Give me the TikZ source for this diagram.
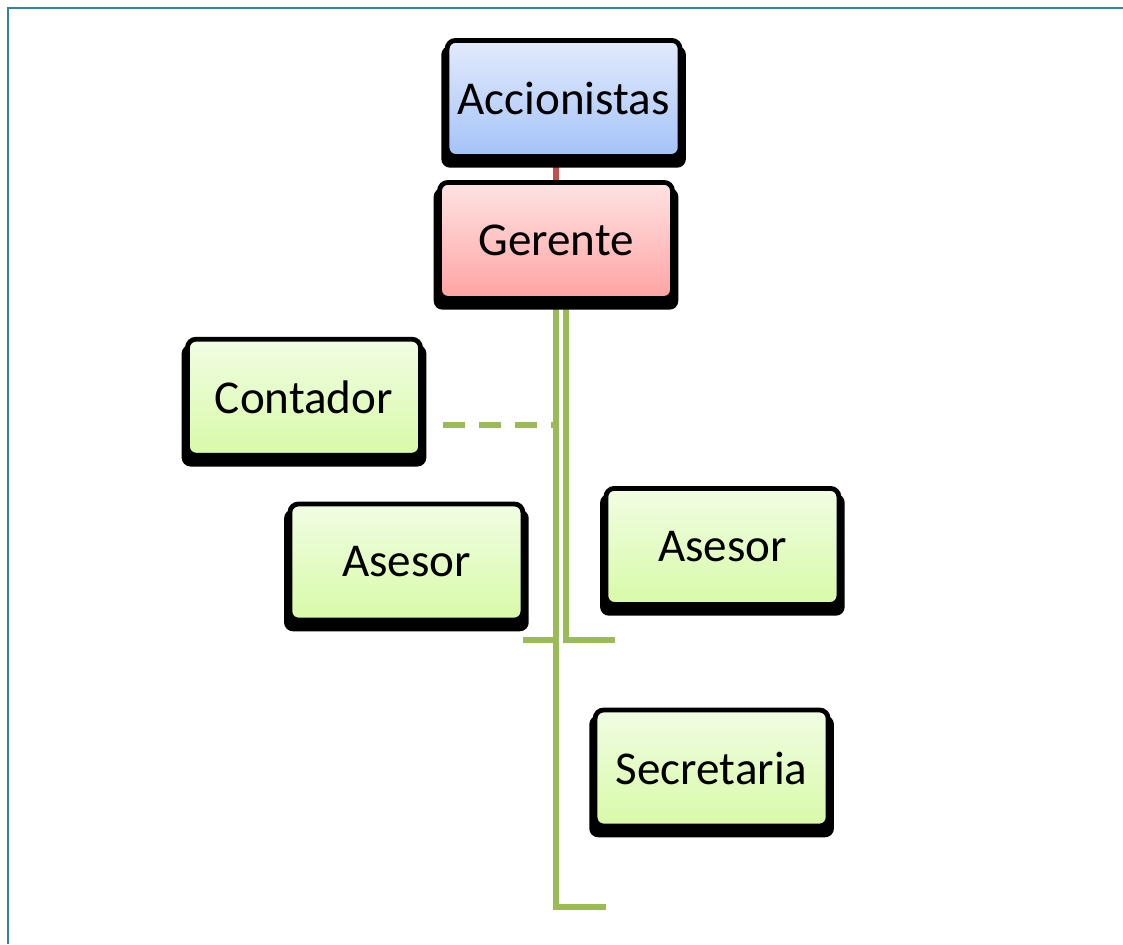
\documentclass[tikz,border=0pt]{standalone}
\usepackage{fontspec}
\setmainfont{Carlito}
\usepackage{tikz}
\usetikzlibrary{
  backgrounds,
  shadows
}
\definecolor{orgBlueTop}{HTML}{E3EBFC}
\definecolor{orgBlueBottom}{HTML}{A4C2F8}
\definecolor{orgRedTop}{HTML}{FFE3E3}
\definecolor{orgRedBottom}{HTML}{FFA3A3}
\definecolor{orgGreenTop}{HTML}{F1FDE3}
\definecolor{orgGreenBottom}{HTML}{D8FAA8}
\definecolor{orgGreen}{HTML}{9BBB59}
\definecolor{orgRed}{HTML}{C0504D}
\definecolor{orgFrame}{HTML}{31849B}
\tikzset{
  orgBox/.style={
    draw=black,
    line width=3.4pt,
    rounded corners=6pt,
    minimum width=5.825cm,
    minimum height=2.9cm,
    align=center,
    font=\fontsize{33.5}{40}\selectfont,
    inner sep=4pt,
    general shadow={fill=black, shadow scale=1.05, shadow yshift=-0.2cm}
  },
  blueBox/.style={orgBox, top color=orgBlueTop, bottom color=orgBlueBottom},
  redBox/.style={orgBox, top color=orgRedTop, bottom color=orgRedBottom},
  greenBox/.style={orgBox, top color=orgGreenTop, bottom color=orgGreenBottom},
  orgLine/.style={orgGreen, line width=3.6pt},
  staffLine/.style={orgLine, dash pattern=on 0.55cm off 0.35cm},
  topLine/.style={orgRed, line width=3.6pt}
}

\begin{document}
\begin{tikzpicture}
  \useasboundingbox (0,0) rectangle (28.075,-23.6);
  % frame
  \draw[orgFrame, line width=1.8pt] (0.2,-23.6) -- (0.2,-0.2) -- (28.075,-0.2);

  \node[blueBox] (accionistas) at (14.09,-2.46) {Accionistas};
  \node[redBox] (gerente) at (13.9,-6.01) {Gerente};
  \node[greenBox] (contador) at (7.6,-9.93) {Contador};
  \node[greenBox] (asesorL) at (10.16,-14.05) {Asesor};
  \node[greenBox] (asesorR) at (18.06,-13.66) {Asesor};
  \node[greenBox] (secretaria) at (17.79,-19.2) {Secretaria};

  \coordinate (contadorEnd) at (11.075,-10.625);
  \coordinate (asesorLEnd) at (13.075,-16.0);
  \coordinate (asesorREnd) at (15.375,-16.0);
  \coordinate (secretariaEnd) at (15.15,-22.675);

  \begin{scope}[on background layer]
    \draw[topLine] (accionistas.south -| gerente.north) -- (gerente.north);
    \draw[orgLine] (gerente.south) |- (asesorLEnd);
    \draw[orgLine] ([xshift=0.25cm]gerente.south) |- (asesorREnd);
    \draw[orgLine] (gerente.south) |- (secretariaEnd);
    \draw[staffLine] (contadorEnd) -- (gerente.south |- contadorEnd);
  \end{scope}
\end{tikzpicture}
\end{document}
